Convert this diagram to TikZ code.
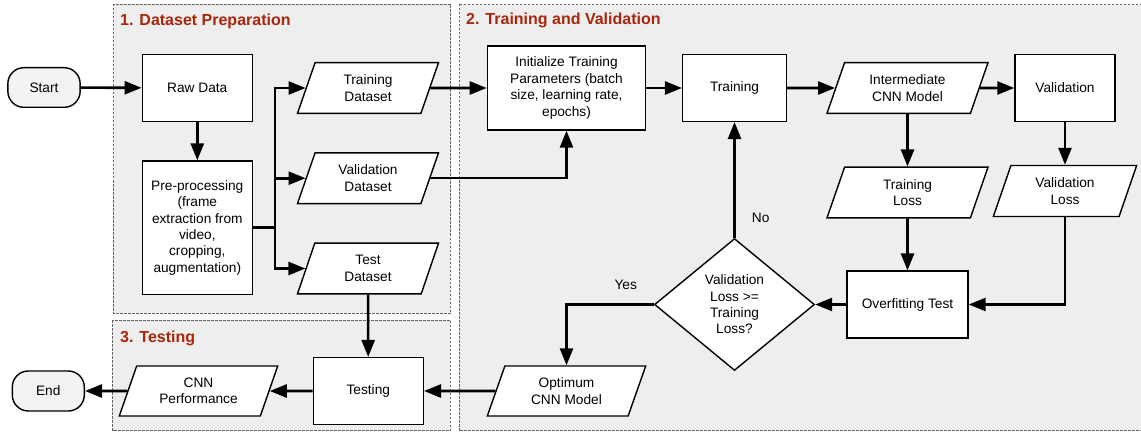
\documentclass[tikz,border=0pt]{standalone}
\usepackage{fontspec}
\setmainfont{Liberation Sans}
\usetikzlibrary{shapes.geometric,arrows.meta}

\definecolor{stagebg}{HTML}{EEEEEE}
\definecolor{stageline}{HTML}{666666}
\definecolor{stagered}{HTML}{A8260C}
\definecolor{termfill}{HTML}{F3F3F3}

\tikzset{
	nodebase/.style={draw=black,line width=1.4pt,fill=white,align=center,inner sep=2pt,
		font=\fontsize{13.7}{16.4}\selectfont},
	proc/.style={nodebase,rectangle},
	term/.style={nodebase,rectangle,rounded corners=16pt,fill=termfill},
	iobox/.style={nodebase,trapezium,trapezium left angle=60,trapezium right angle=120,
		trapezium stretches body},
	decision/.style={nodebase,diamond,inner sep=0pt},
	wire/.style={line width=2.6pt},
	flow/.style={wire,-{Triangle[length=17pt,width=13pt]}},
	stage/.style={draw=stageline,fill=stagebg,line width=0.9pt,dash pattern=on 2.5pt off 1.5pt},
	stagetitle/.style={anchor=base west,inner sep=0pt,text=stagered,
		font=\fontsize{16}{19}\selectfont\bfseries},
	note/.style={font=\fontsize{13.7}{16.4}\selectfont}
}

\begin{document}
\begin{tikzpicture}[x=1pt,y=-1pt]
	\useasboundingbox (0,0) rectangle (1141,433);

	% the three stages
	\draw[stage] (113.3,4) rectangle (450.7,313.3);
	\draw[stage] (459,4) rectangle (1146,430.7);
	\draw[stage] (112.7,320.3) rectangle (450.7,430.7);
	\node[stagetitle] (title1) at (120,26) {1. Dataset Preparation};
	\node[stagetitle] (title2) at (466,25) {2. Training and Validation};
	\node[stagetitle] (title3) at (120,342.3) {3. Testing};

	% dataset preparation
	\node[term,minimum width=72.3pt,minimum height=39.6pt] (start) at (44,87.5) {Start};
	\node[proc,minimum width=110pt,minimum height=66.7pt] (raw) at (197.3,88) {Raw Data};
	\node[proc,minimum width=110pt,minimum height=133.3pt] (prep) at (197.3,227.7)
		{Pre-processing\\(frame\\extraction from\\video,\\cropping,\\augmentation)};
	\node[iobox,minimum width=141pt,minimum height=50.7pt] (trainset) at (368,88) {Training\\Dataset};
	\node[iobox,minimum width=141pt,minimum height=50.7pt] (validset) at (368,178.2) {Validation\\Dataset};
	\node[iobox,minimum width=141pt,minimum height=50.7pt] (testset) at (368,268.5) {Test\\Dataset};
	\coordinate (split) at (275,227.7);

	% training and validation
	\node[proc,minimum width=158.3pt,minimum height=84pt] (init) at (566.5,88)
		{Initialize Training\\Parameters (batch\\size, learning rate,\\epochs)};
	\node[proc,minimum width=103.7pt,minimum height=66.7pt] (train) at (734.5,88) {Training};
	\node[iobox,minimum width=161pt,minimum height=50.7pt] (inter) at (907.5,88) {Intermediate\\CNN Model};
	\node[proc,minimum width=100pt,minimum height=66.7pt] (valid) at (1065,88) {Validation};
	\node[iobox,minimum width=161pt,minimum height=50.7pt] (trainloss) at (907.5,192.5) {Training\\Loss};
	\node[iobox,minimum width=143.3pt,minimum height=51pt] (validloss) at (1065,191) {Validation\\Loss};
	\node[proc,minimum width=121pt,minimum height=66.7pt] (overfit) at (907.5,304.5) {Overfitting Test};
	\node[decision,minimum width=160pt,minimum height=132pt] (check) at (734.5,304.5)
		{Validation\\Loss >=\\Training\\Loss?};
	\node[iobox,minimum width=158.4pt,minimum height=50pt] (optimum) at (566.5,391) {Optimum\\CNN Model};

	% testing
	\node[proc,minimum width=110pt,minimum height=66.7pt] (testing) at (368.3,391) {Testing};
	\node[iobox,minimum width=158.4pt,minimum height=50pt] (perf) at (198.5,391) {CNN\\Performance};
	\node[term,minimum width=72pt,minimum height=40pt] (end) at (48.3,391) {End};

	\draw[flow] (start) -- (raw);
	\draw[flow] (raw) -- (prep);
	\draw[wire] (prep) -- (split);
	\draw[flow] (split) |- (trainset);
	\draw[flow] (split) |- (validset);
	\draw[flow] (split) |- (testset);
	\draw[flow] (trainset) -- (init);
	\draw[flow] (validset) -| (init);
	\draw[flow] (init) -- (train);
	\draw[flow] (train) -- (inter);
	\draw[flow] (inter) -- (valid);
	\draw[flow] (inter) -- (trainloss);
	\draw[flow] (valid) -- (validloss);
	\draw[flow] (trainloss) -- (overfit);
	\draw[flow] (validloss) |- (overfit);
	\draw[flow] (overfit) -- (check);
	\draw[flow] (check) -- (train);
	\draw[flow] (check.west) -| (optimum);
	\draw[flow] (optimum) -- (testing);
	\draw[flow] (testset) -- (testing);
	\draw[flow] (testing) -- (perf);
	\draw[flow] (perf) -- (end);

	\node[note] (yes) at (625.7,284.7) {Yes};
	\node[note] (no) at (760.7,218.3) {No};
\end{tikzpicture}
\end{document}
